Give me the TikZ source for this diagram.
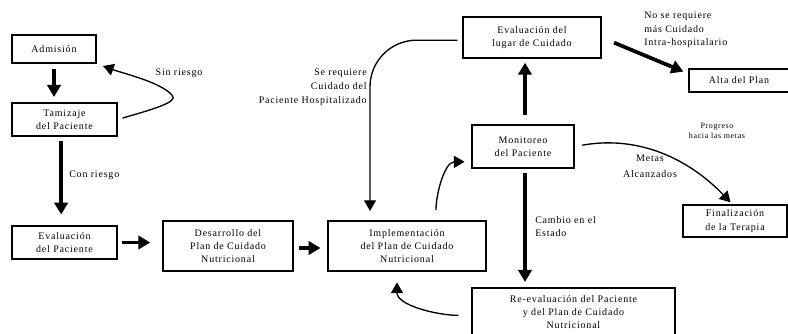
\documentclass[tikz,border=0pt]{standalone}
\usepackage{fontspec}
\setmainfont{Liberation Serif}[LetterSpace=8]
\usetikzlibrary{arrows.meta}
\tikzset{>={Triangle[length=9pt,width=10pt]}}
\tikzset{caja/.style={draw, line width=1.1pt, align=center, inner sep=0pt, font=\fontsize{7.5}{10}\selectfont},
  flecha/.style={->, line width=2.8pt},
  curva/.style={-{Triangle[length=8pt,width=9pt]}, line width=1pt, line cap=round},
  rotulo/.style={inner sep=0pt, font=\fontsize{7.5}{10}\selectfont}}

\begin{document}
\begin{tikzpicture}[x=0.75pt, y=-0.75pt]
\useasboundingbox (0,0) rectangle (788,333);
% cajas
\node[caja, minimum width=63pt, minimum height=21pt] (adm) at (54,49) {Admisión};
\node[caja, minimum width=78.75pt, minimum height=24.75pt] (tam) at (64.5,119.5) {Tamizaje\\del Paciente};
\node[caja, minimum width=78.75pt, minimum height=24.75pt] (evp) at (64.5,242.5) {Evaluación\\del Paciente};
\node[caja, minimum width=97.5pt, minimum height=37.5pt] (des) at (228,246) {Desarrollo del\\Plan de Cuidado\\Nutricional};
\node[caja, minimum width=118.5pt, minimum height=37.5pt] (imp) at (407,246) {Implementación\\del Plan de Cuidado\\Nutricional};
\node[caja, minimum width=76.5pt, minimum height=32.25pt] (mon) at (523,146.5) {Monitoreo\\del Paciente};
\node[caja, minimum width=103.5pt, minimum height=30.75pt] (lug) at (532,37.5) {Evaluación del\\lugar de Cuidado};
\node[caja, minimum width=75pt, minimum height=17.25pt] (alt) at (739,80.5) {Alta del Plan};
\node[caja, minimum width=78pt, minimum height=24pt] (fin) at (735,221) {Finalización\\de la Terapia};
\node[caja, minimum width=152.25pt, minimum height=36pt] (ree) at (573.5,312) {Re-evaluación del Paciente\\y del Plan de Cuidado\\Nutricional};
% flechas rectas
\draw[flecha, shorten <=4pt, shorten >=4pt] (adm) -- (adm |- tam.north);
\draw[flecha, shorten <=3pt, shorten >=8pt] ([xshift=-2.5pt]tam.south) -- ([xshift=-2.5pt]evp.north);
\draw[flecha, shorten <=3pt, shorten >=9pt] (evp.east) -- (evp.east -| des.west);
\draw[flecha, shorten <=4pt, shorten >=5pt] ([yshift=-1.5pt]des.east) -- ([yshift=-1.5pt]des.east -| imp.west);
\draw[flecha, shorten <=7pt, shorten >=3pt] ([xshift=1.5pt]mon.north) -- ([xshift=1.5pt]mon.north |- lug.south);
\draw[flecha, shorten <=3pt, shorten >=4pt] ([xshift=1.5pt]mon.south) -- ([xshift=1.5pt]mon.south |- ree.north);
\draw[flecha, shorten <=10pt, shorten >=4pt] (lug.east) -- ([yshift=-4pt]alt.north west);
% flechas curvas
\draw[curva, shorten <=4pt, shorten >=5pt] (tam.east) .. controls (150,110) and (180,102) .. (172,95)
  .. controls (160,82) and (125,74) .. (adm.south east);
\draw[curva, rounded corners=35pt, shorten <=4pt, shorten >=7pt] ([yshift=-2pt]lug.west) -| ([xshift=-27.75pt]imp.north);
\draw[curva, shorten <=8pt, shorten >=5pt] ([xshift=21.75pt]imp.north) to[out=90, in=180] ([yshift=-11.5pt]mon.west);
\draw[curva, shorten <=6pt, shorten >=2pt] (mon.east) .. controls (640,135) and (690,160) .. ([xshift=-2pt]fin.north);
\draw[curva, shorten <=10pt, shorten >=8pt] ([yshift=-2.5pt]ree.west) to[out=180, in=-90] ([xshift=-7.5pt]imp.south);
% rotulos
\node[rotulo] (sinr) at (179,73) {Sin riesgo};
\node[rotulo, anchor=west] (conr) at (69,175) {Con riesgo};
\node[rotulo, align=right, anchor=east, font=\fontsize{7.5}{10.5}\selectfont] (hosp) at (367,87) {Se requiere\\Cuidado del\\Paciente Hospitalizado};
\node[rotulo, align=left, anchor=west] (noreq) at (644,30) {No se requiere\\más Cuidado\\Intra-hospitalario};
\node[rotulo, align=center, font=\fontsize{6}{7.5}\selectfont] (prog) at (717,131) {Progreso\\hacia las metas};
\node[rotulo, align=center, font=\fontsize{7.5}{12}\selectfont] (metas) at (650,166) {Metas\\Alcanzados};
\node[rotulo, align=left, anchor=west] (camb) at (535,226.5) {Cambio en el\\Estado};
\end{tikzpicture}
\end{document}
